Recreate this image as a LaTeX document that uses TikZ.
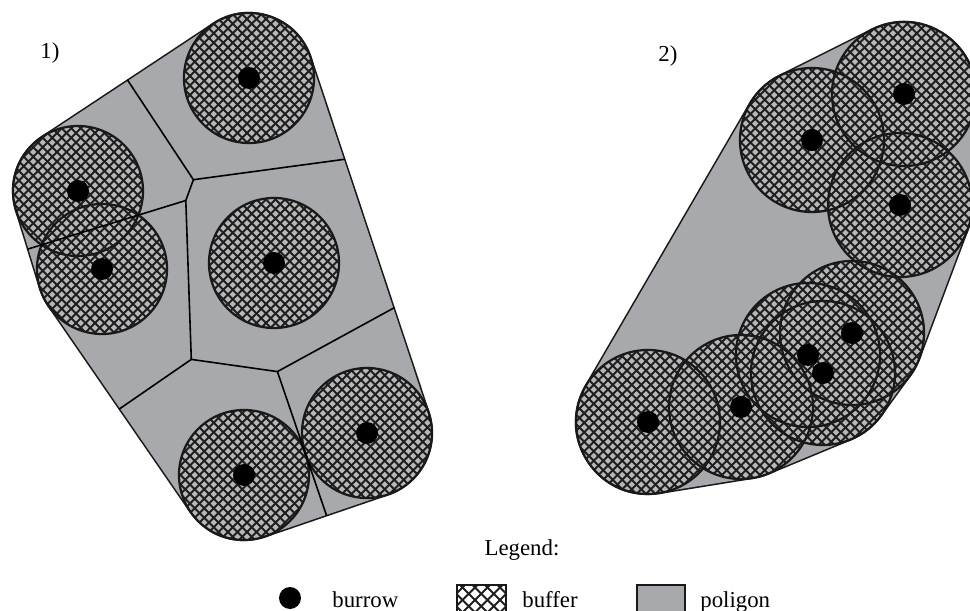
\documentclass[tikz,border=0pt]{standalone}
\usepackage{fontspec}
\setmainfont{Liberation Serif}
\definecolor{polygray}{HTML}{A8A9AC}
\definecolor{cellgray}{HTML}{B6B7B9}
\definecolor{hatchcol}{HTML}{1E1E1E}
% hatch lines around (cx,cy) covering half-size #3, spacing #4 (px)
\newcommand\myhatchlines[4]{%
  \pgfmathtruncatemacro\kmin{floor((#1+#2-1.5*#3)/#4)}%
  \pgfmathtruncatemacro\kmax{ceil((#1+#2+1.5*#3)/#4)}%
  \foreach \k in {\kmin,...,\kmax}{\draw[hatch] ({\k*#4-#2+#3},{#2-#3}) -- ({\k*#4-#2-#3},{#2+#3});}%
  \pgfmathtruncatemacro\kmin{floor((#1-#2-1.5*#3)/#4)}%
  \pgfmathtruncatemacro\kmax{ceil((#1-#2+1.5*#3)/#4)}%
  \foreach \k in {\kmin,...,\kmax}{\draw[hatch] ({\k*#4+#2-#3},{#2-#3}) -- ({\k*#4+#2+#3},{#2+#3});}%
}
\newcommand\myhatchcircle[3]{%
  \begin{scope}
    \clip (#1,#2) circle (#3);
    \fill[cellgray] (#1,#2) circle (#3);
    \myhatchlines{#1}{#2}{#3}{9.5}
  \end{scope}%
}
\begin{document}
\begin{tikzpicture}[x=0.02cm,y=-0.02cm,
  hatch/.style={draw=hatchcol,line width=0.038cm},
  bufedge/.style={draw=black!90,line width=0.045cm},
  vor/.style={draw=black,line width=0.032cm,line cap=round},
  hullout/.style={draw=black!90,line join=round},
  burrowdot/.style={circle,fill=black,draw=none,inner sep=0pt,minimum size=0.44cm},
  lbl/.style={font=\fontsize{13pt}{15pt}\selectfont,inner sep=0pt}]
\useasboundingbox (0,0) rectangle (970,611);
\clip (0,0) rectangle (970,611);

%================ panel 1 ================
\coordinate (T) at (249,78);
\coordinate (UL) at (78,191);
\coordinate (LL) at (102,269);
\coordinate (M) at (274,263);
\coordinate (Bo) at (244,475);
\coordinate (BR) at (367,433);
% hull (offset of centre hull by r=65)
\draw[hullout,line width=2.64cm] (T) -- (BR) -- (Bo) -- (LL) -- (UL) -- cycle;
\draw[polygray,line join=round,line width=2.576cm] (T) -- (BR) -- (Bo) -- (LL) -- (UL) -- cycle;
\fill[polygray] (T) -- (BR) -- (Bo) -- (LL) -- (UL) -- cycle;
% buffers
\foreach \cx/\cy in {249/78,78/191,102/269,274/263,244/475,367/433}{\myhatchcircle{\cx}{\cy}{65}}
\foreach \cx/\cy in {249/78,78/191,102/269,274/263,244/475,367/433}{\draw[bufedge] (\cx,\cy) circle (65);}
% Voronoi edges
\coordinate (VA) at (193.4,179.7);
\coordinate (VB) at (185.8,200.5);
\coordinate (VC) at (191.3,359.4);
\coordinate (VD) at (277.4,371.6);
\coordinate (E1) at (127.7,80.3);
\coordinate (E2) at (344.5,159.3);
\coordinate (E3) at (27.8,249.1);
\coordinate (E4) at (119.5,408.9);
\coordinate (E5) at (394.1,307.8);
\coordinate (E6) at (326.5,515.4);
\draw[vor] (E1) -- (VA) -- (E2);
\draw[vor] (VA) -- (VB);
\draw[vor] (E3) -- (VB) -- (VC) -- (E4);
\draw[vor] (VC) -- (VD) -- (E5);
\draw[vor] (VD) -- (E6);
% burrows
\node[burrowdot] (b1) at (T) {};
\node[burrowdot] (b2) at (UL) {};
\node[burrowdot] (b3) at (LL) {};
\node[burrowdot] (b4) at (M) {};
\node[burrowdot] (b5) at (Bo) {};
\node[burrowdot] (b6) at (BR) {};
\node[lbl,anchor=base west] (lab1) at (40,59) {1)};

%================ panel 2 ================
\coordinate (Q1) at (904,94);
\coordinate (Q2) at (900,205);
\coordinate (Q3) at (852,333);
\coordinate (Q4) at (823,373);
\coordinate (Q5) at (741,407);
\coordinate (Q6) at (648,422);
\coordinate (Q7) at (812,140);
\coordinate (Q8) at (808,355);
\draw[hullout,line width=2.92cm] (Q1) -- (Q2) -- (Q3) -- (Q4) -- (Q5) -- (Q6) -- (Q7) -- cycle;
\draw[polygray,line join=round,line width=2.856cm] (Q1) -- (Q2) -- (Q3) -- (Q4) -- (Q5) -- (Q6) -- (Q7) -- cycle;
\fill[polygray] (Q1) -- (Q2) -- (Q3) -- (Q4) -- (Q5) -- (Q6) -- (Q7) -- cycle;
\foreach \cx/\cy in {904/94,812/140,900/205,852/333,808/355,823/373,741/407,648/422}{\myhatchcircle{\cx}{\cy}{72}}
\foreach \cx/\cy in {904/94,812/140,900/205,852/333,808/355,823/373,741/407,648/422}{\draw[bufedge] (\cx,\cy) circle (72);}
\node[burrowdot] (c1) at (Q1) {};
\node[burrowdot] (c2) at (Q2) {};
\node[burrowdot] (c3) at (Q3) {};
\node[burrowdot] (c4) at (Q4) {};
\node[burrowdot] (c5) at (Q5) {};
\node[burrowdot] (c6) at (Q6) {};
\node[burrowdot] (c7) at (Q7) {};
\node[burrowdot] (c8) at (Q8) {};
\node[lbl,anchor=base west] (lab2) at (658,62) {2)};

%================ legend ================
\node[lbl,anchor=base] (legtitle) at (522,555) {Legend:};
\node[burrowdot,minimum size=0.44cm] (legdot) at (290,598) {};
\node[lbl,anchor=base west] (legburrow) at (332,607) {burrow};
\begin{scope}
  \clip (457,585) rectangle (506,616);
  \fill[white] (457,585) rectangle (506,616);
  \myhatchlines{481.5}{600.5}{30}{12.5}
\end{scope}
\draw[black!90,line width=0.03cm] (457,585) rectangle (506,616);
\node[lbl,anchor=base west] (legbuffer) at (522,607) {buffer};
\draw[black!90,fill=polygray,line width=0.03cm] (637,585) rectangle (685,616);
\node[lbl,anchor=base west] (legpoly) at (700,607) {poligon};
\end{tikzpicture}
\end{document}
